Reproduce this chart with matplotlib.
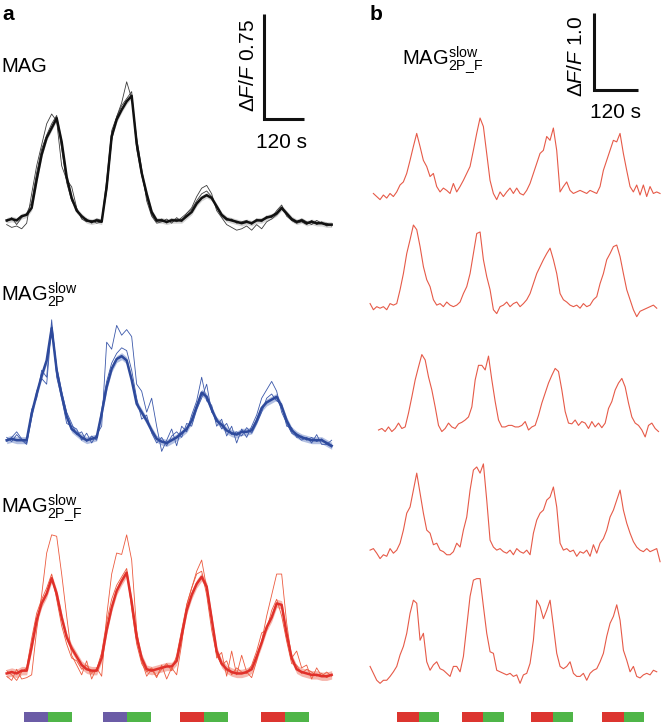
import numpy as np
import matplotlib
matplotlib.use('Agg')
from matplotlib import pyplot as plt

plt.rcParams['font.family'] = ['Liberation Sans', 'DejaVu Sans']
plt.rcParams['mathtext.fontset'] = 'custom'
plt.rcParams['mathtext.rm'] = 'Liberation Sans'
plt.rcParams['mathtext.it'] = 'Liberation Sans:italic'
plt.rcParams['mathtext.bf'] = 'Liberation Sans:bold'

# ---- panel a: time in s, traces in units of 0.01 dF/F ----
t_a = np.arange(20, 1000, 15)

mag_mean = [1, 2, 1, 4, 5, 10, 30, 48, 60, 67, 74, 57, 32, 17, 8, 4, 1, 0, 1, 0,
            25, 61, 73, 80, 86, 90, 56, 35, 20, 7, 1, 1, 0, 1, 1, 1, 4, 7, 13, 17,
            19, 17, 11, 5, 2, 1, 0, -1, 0, -1, 1, 1, 3, 4, 6, 10, 6, 2, 0, 1,
            -1, 0, -1, -1, -2, -2]
mag_t1 = [0, 3, -2, 3, 6, 14, 35, 52, 62, 70, 76, 52, 28, 15, 9, 3, 2, -1, 2, 1,
          22, 58, 75, 83, 88, 93, 52, 33, 18, 5, 0, 2, -1, 2, 0, 3, 6, 9, 15, 20,
          22, 18, 10, 4, 1, 2, -1, 0, 1, -2, 2, 0, 4, 3, 8, 12, 4, 1, -1, 2,
          0, -2, 1, -1, -1, -3]
mag_t2 = [-2, -4, -3, -5, -1, 20, 40, 55, 70, 77, 72, 40, 30, 25, 10, 2, 0, 1, -1, 0,
          30, 65, 75, 85, 100, 88, 60, 38, 15, 4, -1, 0, 2, -1, 3, 0, 6, 10, 18, 24,
          26, 20, 8, 3, -2, -4, -6, -5, -3, -6, -2, -5, 0, 2, 5, 9, 5, 1, -1, 0,
          -2, 1, -2, 0, -3, -2]

blue_mean = [0, 1, 0, 0, 0, 19, 33, 46, 57, 80, 50, 32, 17, 8, 5, 2, 0, 1, 2, 19,
             38, 51, 58, 60, 57, 43, 26, 20, 14, 7, 1, -1, -2, 0, 2, 5, 8, 14, 24, 34,
             31, 22, 14, 11, 7, 5, 4, 6, 6, 7, 14, 23, 27, 29, 31, 24, 14, 7, 4, 2,
             1, 0, 0, 0, -2, -4]
blue_t1 = [2, -1, 4, 0, -3, 22, 30, 50, 45, 86, 45, 30, 12, 10, 8, 0, 5, -2, 4, 10,
           70, 65, 82, 75, 79, 74, 40, 35, 20, 30, 10, -8, 0, 8, -4, 10, 6, 18, 28, 45,
           28, 25, 10, 15, 3, 10, -2, 8, 2, 10, 18, 30, 36, 42, 35, 20, 12, 5, 3, 0,
           2, -2, 4, -3, -3, 0]
blue_t2 = [-1, 2, 6, 1, -2, 16, 35, 44, 40, 82, 52, 35, 20, 12, 4, 6, -1, 3, 0, 22,
           42, 55, 62, 66, 64, 50, 30, 15, 18, 5, -2, 2, -4, 3, 6, 2, 12, 10, 22, 30,
           40, 20, 16, 8, 12, 4, 6, 3, 9, 5, 12, 20, 30, 33, 28, 26, 10, 9, 2, 3,
           0, 2, -1, 1, -3, -5]

red_mean = [-1, 0, -1, 1, 1, 18, 37, 49, 56, 67, 56, 39, 25, 17, 11, 5, 2, 1, 1, 10,
            30, 46, 58, 65, 71, 50, 25, 10, 2, 1, 2, 3, 4, 4, 8, 26, 44, 55, 63, 68,
            61, 38, 15, 6, 2, 0, -1, -1, 0, 2, 11, 21, 32, 39, 49, 48, 27, 10, 2, 0,
            -1, -2, -2, -3, -3, -2]
red_t1 = [-3, -6, 2, -5, -4, -2, 30, 55, 85, 98, 97, 70, 40, 12, 5, -2, 8, -5, 3, -3,
          40, 70, 85, 84, 98, 80, 30, 8, -3, 2, -4, 5, -5, 3, -2, 20, 48, 60, 72, 80,
          60, 40, 10, 14, -3, 15, -2, 12, 0, -4, 8, 22, 40, 55, 70, 70, 35, 10, 15, 3,
          5, -5, 3, -3, 0, -3]
red_t2 = [1, -2, -6, 0, 3, 24, 42, 52, 60, 70, 52, 33, 20, 10, 8, 2, 5, -1, 2, 14,
          36, 52, 62, 68, 74, 45, 20, 6, 0, 3, -3, 2, 6, 1, 12, 30, 48, 60, 70, 72,
          55, 30, 12, 5, 8, -2, 3, 0, -1, 5, 15, 28, 30, 44, 52, 40, 22, 6, 5, -1,
          2, 0, -3, -1, -4, -2]

sem_a = [2.0, 2.5, 3.0]

# ---- panel b: single traces, sampled every 9.09 s ----
b_dt = 9.09
b_start = [91, 82, 105, 82, 82]
b1 = [2, -2, -6, 0, -4, 2, -2, 4, 13, 17, 28, 45, 63, 80, 63, 45, 37, 24, 28, 11,
      4, 9, 6, 2, 15, 4, 11, 19, 28, 37, 58, 80, 100, 89, 54, 19, 2, -6, 4, -2,
      4, 9, 2, 9, 2, 0, 6, 15, 28, 41, 54, 58, 76, 71, 87, 58, 4, 11, 17, 6,
      2, 4, 6, 4, 2, 6, 4, 2, 11, 32, 45, 58, 71, 69, 80, 54, 32, 11, 4, 13,
      0, 13, -2, 11, 2, 4, 2]
b2 = [4, -4, 0, -2, 0, -4, 4, 2, 4, 22, 43, 69, 87, 106, 100, 78, 52, 35, 26, 9,
      2, 4, 0, 6, 2, 0, 2, 6, 17, 26, 43, 69, 95, 97, 61, 39, 22, -4, -9, 0,
      2, 6, 0, 4, 6, 0, 4, 9, 17, 30, 43, 52, 61, 69, 76, 61, 43, 17, 9, 6,
      2, 0, 2, -2, 4, 0, 2, 9, 13, 30, 43, 61, 69, 78, 80, 65, 43, 22, 9, -4,
      -13, -6, -4, -2, 0, 2, -2]
b3 = [0, 2, -2, 4, -2, 2, 9, 2, 4, 22, 43, 65, 82, 98, 91, 69, 52, 30, 6, -2,
      2, 9, 4, 2, 8, 10, 13, 17, 30, 65, 84, 84, 78, 96, 65, 37, 13, 4, 4, 6,
      6, 4, 4, 6, 11, 0, 4, 6, 19, 35, 48, 61, 71, 80, 76, 52, 24, 9, 8, 13,
      6, 11, 9, 2, 11, 4, 9, 3, 9, 28, 37, 52, 61, 67, 56, 35, 17, 9, 6, 0,
      -9, 6, 9, 2, -2]
b4 = [2, 4, -2, -9, -4, -6, 4, -2, 2, 11, 28, 50, 58, 80, 102, 76, 50, 28, 24, 9,
      11, 2, 0, -4, -4, 0, 11, 6, 28, 45, 80, 106, 110, 102, 114, 67, 15, 6, 2, 4,
      0, -2, 2, -4, 4, 0, -2, 2, -4, 24, 41, 50, 54, 67, 71, 84, 58, 11, 2, 4,
      0, 2, -6, 0, -2, 2, -6, 9, -2, 11, 17, 28, 45, 54, 67, 80, 54, 37, 24, 13,
      6, 2, 0, 4, 0, 2, 4, -13]
b5 = [9, 0, -9, -13, -9, -9, -4, 2, 9, 24, 35, 52, 78, 95, 91, 43, 52, 15, 4, 11,
      15, 6, 4, 0, -4, 9, 9, 2, 22, 61, 100, 121, 123, 123, 87, 52, 28, 26, 4, 2,
      0, -2, 0, -4, -2, -13, -2, 0, 13, 43, 95, 87, 71, 82, 95, 61, 26, 9, 6, 9,
      15, 0, -4, -4, 0, -9, 0, 4, 6, 15, 26, 48, 65, 74, 89, 69, 30, 17, 2, 9,
      -4, -6, -2, 0, -2, 4, 2]

# stimulus blocks (onset in s, two halves)
stim_a_on = [72, 308, 540, 783]
stim_a_first = ['#6b5ca6', '#6b5ca6', '#dc352f', '#dc352f']
stim_a_half = 72
stim_b_on = [156, 332, 521, 715]
stim_b_first = ['#dc352f', '#dc352f', '#dc352f', '#dc352f']
stim_b_half = [59, 55]
green = '#4fb548'

W, H = 661, 723
fig = plt.figure(figsize=(W / 100, H / 100), dpi=100)

# px per 0.01 dF/F : panel a 1.4, panel b 0.77
ax_a = fig.add_axes([0, 0, 340 / W, 1])
ax_a.set_xlim(0, 1020)
ax_a.set_ylim(0, H / 1.4)
ax_a.axis('off')

ax_b = fig.add_axes([340 / W, 0, 321 / W, 1])
ax_b.set_xlim(0, 321 * 2.727)
ax_b.set_ylim(0, H / 0.77)
ax_b.axis('off')

rows_a = [
    (mag_mean, mag_t1, mag_t2, sem_a[0], 358, '#111111', '#3c3c3c', '#c8c8c8'),
    (blue_mean, blue_t1, blue_t2, sem_a[1], 202, '#2e4a9c', '#3b58aa', '#9fb0da'),
    (red_mean, red_t1, red_t2, sem_a[2], 36.4, '#e0302a', '#ec5a3e', '#f4a59a'),
]
for mean, t1, t2, sem, off, c_mean, c_thin, c_band in rows_a:
    m = np.array(mean) + off
    ax_a.plot(t_a, np.array(t1) + off, color=c_thin, lw=0.6)
    ax_a.plot(t_a, np.array(t2) + off, color=c_thin, lw=0.6)
    ax_a.fill_between(t_a, m - sem, m + sem, color=c_band, lw=0, alpha=0.8)
    ax_a.plot(t_a, m, color=c_mean, lw=1.8)

b_traces = [b1, b2, b3, b4, b5]
b_offsets = [685.7, 540.7, 380.5, 222.5, 64.5]
for tr, st, off in zip(b_traces, b_start, b_offsets):
    tt = st + b_dt * np.arange(len(tr))
    ax_b.plot(tt, np.array(tr) + off, color='#e65a48', lw=0.8)

# stimulus bars
y0, y1 = 1 / H, 11 / H
for on, c in zip(stim_a_on, stim_a_first):
    ax_a.axvspan(on, on + stim_a_half, ymin=y0, ymax=y1, color=c, lw=0)
    ax_a.axvspan(on + stim_a_half, on + 2 * stim_a_half, ymin=y0, ymax=y1, color=green, lw=0)
for on, c in zip(stim_b_on, stim_b_first):
    ax_b.axvspan(on, on + stim_b_half[0], ymin=y0, ymax=y1, color=c, lw=0)
    ax_b.axvspan(on + stim_b_half[0], on + sum(stim_b_half), ymin=y0, ymax=y1, color=green, lw=0)

# scale bars
ax_a.plot([790.5, 790.5, 910.5], [506.4, 431.4, 431.4], color='#111111', lw=2.2,
          solid_joinstyle='miter', solid_capstyle='butt')
ax_b.plot([692.7, 692.7, 812.7], [922, 822, 822], color='#111111', lw=2.2,
          solid_joinstyle='miter', solid_capstyle='butt')

def fx(x):
    return x / W

def fy(y):
    return 1 - y / H

fig.text(fx(2), fy(20), 'a', fontsize=15, fontweight='bold', va='baseline')
fig.text(fx(370), fy(20), 'b', fontsize=15, fontweight='bold', va='baseline')
fig.text(fx(1), fy(72), 'MAG', fontsize=14.5, va='baseline')
fig.text(fx(1), fy(301), r'MAG$_{\mathrm{2P}}^{\mathrm{slow}}$', fontsize=14.5, va='baseline')
fig.text(fx(1), fy(513), r'MAG$_{\mathrm{2P\_F}}^{\mathrm{slow}}$', fontsize=14.5, va='baseline')
fig.text(fx(402), fy(65), r'MAG$_{\mathrm{2P\_F}}^{\mathrm{slow}}$', fontsize=14.5, va='baseline')

fig.text(fx(248), fy(66), r'$\Delta F/F$ 0.75', rotation=90, ha='center', va='center', fontsize=15)
fig.text(fx(281), fy(148), '120 s', ha='center', va='baseline', fontsize=15)
fig.text(fx(577), fy(56), r'$\Delta F/F$ 1.0', rotation=90, ha='center', va='center', fontsize=15)
fig.text(fx(615), fy(118), '120 s', ha='center', va='baseline', fontsize=15)

fig.savefig('out.png', dpi=100)
